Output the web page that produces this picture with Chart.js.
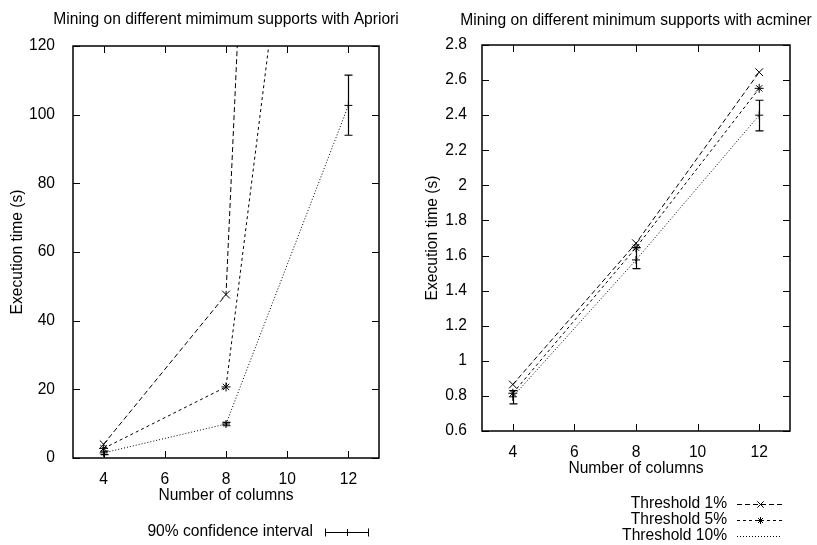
<!DOCTYPE html>
<html>
<head>
<meta charset="utf-8">
<script src="https://cdn.jsdelivr.net/npm/chart.js@4.4.1/dist/chart.umd.min.js"></script>
<style>
  html, body { margin: 0; padding: 0; background: #fff; }
  #page { position: relative; width: 817px; height: 545px; overflow: hidden; }
  .panel { position: absolute; top: 0; height: 545px; }
  #leftPanel { left: 0; width: 410px; }
  #rightPanel { left: 410px; width: 407px; }
</style>
</head>
<body>
<div id="page">
  <div class="panel" id="leftPanel"><canvas id="aprioriChart"></canvas></div>
  <div class="panel" id="rightPanel"><canvas id="acminerChart"></canvas></div>
</div>
<script>
const columns = [4, 8, 12];
const xTicks = [4, 6, 8, 10, 12];

// Apriori execution times (s)
const apriori1 = [4.0, 47.6, 835];
const apriori5 = [2.8, 20.7, 305];
const apriori10 = [1.5, 9.9, 102.7];
const apriori10Low = [1.0, 9.4, 94];
const apriori10High = [2.0, 10.4, 111.5];
const aprioriTicks = [0, 20, 40, 60, 80, 100, 120];

// acminer execution times (s)
const acminer1 = [0.865, 1.67, 2.645];
const acminer5 = [0.815, 1.645, 2.553];
const acminer10 = [0.795, 1.575, 2.40];
const acminer10Low = [0.755, 1.525, 2.31];
const acminer10High = [0.83, 1.645, 2.485];
const acminerTicks = [0.6, 0.8, 1, 1.2, 1.4, 1.6, 1.8, 2, 2.2, 2.4, 2.6, 2.8];

const seriesStyles = [
  { label: 'Threshold 1%', dash: [5, 3], point: 'crossRot', radius: 5.5 },
  { label: 'Threshold 5%', dash: [3, 3], point: 'star', radius: 4.5 },
  { label: 'Threshold 10%', dash: [1, 2], point: 'cross', radius: 4 }
];

const FONT = "'Liberation Sans', Arial, Helvetica, sans-serif";
const FONT_SIZE = 15.6;
Chart.defaults.font.family = FONT;
Chart.defaults.font.size = FONT_SIZE;
Chart.defaults.color = '#000';

function makeDataset(values, style, low, high) {
  return {
    label: style.label,
    data: columns.map((c, i) => ({ x: c, y: values[i] })),
    borderColor: '#000',
    borderWidth: 1,
    borderDash: style.dash,
    pointStyle: style.point,
    pointRadius: style.radius,
    pointBorderColor: '#000',
    pointBackgroundColor: '#000',
    pointBorderWidth: 1,
    tension: 0,
    fill: false,
    errLow: low,
    errHigh: high
  };
}

// box around the plot, inward ticks on all four sides, plot title
const framePlugin = {
  id: 'frame',
  afterDraw(chart, args, opts) {
    const { ctx, chartArea: a, scales: { x, y } } = chart;
    const len = 7;
    ctx.save();
    ctx.strokeStyle = '#000';
    ctx.lineWidth = 1;
    ctx.beginPath();
    x.ticks.forEach(t => {
      const px = Math.round(x.getPixelForValue(t.value)) + 0.5;
      ctx.moveTo(px, a.bottom); ctx.lineTo(px, a.bottom - len);
      ctx.moveTo(px, a.top); ctx.lineTo(px, a.top + len);
    });
    y.ticks.forEach(t => {
      const py = Math.round(y.getPixelForValue(t.value)) + 0.5;
      ctx.moveTo(a.left, py); ctx.lineTo(a.left + len, py);
      ctx.moveTo(a.right, py); ctx.lineTo(a.right - len, py);
    });
    ctx.stroke();
    ctx.lineWidth = 1.5;
    ctx.strokeRect(a.left, a.top, a.right - a.left, a.bottom - a.top);
    ctx.font = `${FONT_SIZE}px ${FONT}`;
    ctx.fillStyle = '#000';
    ctx.textAlign = 'center';
    ctx.textBaseline = 'middle';
    ctx.fillText(opts.text, (a.left + a.right) / 2, opts.y);
    ctx.restore();
  }
};

function drawErrorBar(ctx, px, yLow, yHigh, cap) {
  ctx.moveTo(px, yLow); ctx.lineTo(px, yHigh);
  ctx.moveTo(px - cap, yLow); ctx.lineTo(px + cap, yLow);
  ctx.moveTo(px - cap, yHigh); ctx.lineTo(px + cap, yHigh);
}

const errorBarPlugin = {
  id: 'errorBars',
  afterDatasetsDraw(chart) {
    const { ctx, chartArea: a, scales: { x, y } } = chart;
    ctx.save();
    ctx.beginPath();
    ctx.rect(a.left, a.top, a.right - a.left, a.bottom - a.top);
    ctx.clip();
    ctx.strokeStyle = '#000';
    ctx.lineWidth = 1.2;
    ctx.beginPath();
    chart.data.datasets.forEach(ds => {
      if (!ds.errLow) return;
      ds.data.forEach((p, i) => {
        const px = Math.round(x.getPixelForValue(p.x)) + 0.5;
        drawErrorBar(ctx, px, y.getPixelForValue(ds.errLow[i]), y.getPixelForValue(ds.errHigh[i]), 4);
      });
    });
    ctx.stroke();
    ctx.restore();
  }
};

// key under the plot: right aligned text followed by a line sample
const keyPlugin = {
  id: 'key',
  afterDraw(chart, args, opts) {
    const { ctx } = chart;
    ctx.save();
    ctx.font = `${FONT_SIZE}px ${FONT}`;
    ctx.fillStyle = '#000';
    ctx.strokeStyle = '#000';
    ctx.textAlign = 'right';
    ctx.textBaseline = 'middle';
    opts.rows.forEach(row => {
      ctx.fillText(row.text, opts.textRight, row.y);
      const mid = (opts.sampleLeft + opts.sampleRight) / 2;
      const y = Math.round(row.y) + 0.5;
      ctx.lineWidth = 1;
      ctx.beginPath();
      ctx.setLineDash(row.dash || []);
      ctx.moveTo(opts.sampleLeft, y);
      ctx.lineTo(opts.sampleRight, y);
      ctx.stroke();
      ctx.setLineDash([]);
      if (row.errorBar) {
        ctx.beginPath();
        ctx.moveTo(opts.sampleLeft + 0.5, y - 4); ctx.lineTo(opts.sampleLeft + 0.5, y + 4);
        ctx.moveTo(opts.sampleRight - 0.5, y - 4); ctx.lineTo(opts.sampleRight - 0.5, y + 4);
        ctx.stroke();
      }
      if (row.point) {
        Chart.helpers.drawPoint(ctx, { pointStyle: row.point, radius: row.radius, borderWidth: 1, rotation: 0 }, Math.round(mid) + 0.5, y);
      }
    });
    ctx.restore();
  }
};

function createChart(id, cfg) {
  return new Chart(document.getElementById(id), {
    type: 'line',
    data: { datasets: cfg.datasets },
    plugins: [framePlugin, errorBarPlugin, keyPlugin],
    options: {
      responsive: true,
      maintainAspectRatio: false,
      animation: false,
      layout: { padding: { top: cfg.top, right: cfg.right, bottom: 0, left: 0 } },
      plugins: {
        legend: { display: false },
        tooltip: { enabled: false },
        frame: { text: cfg.title, y: cfg.titleY },
        key: cfg.key
      },
      scales: {
        x: {
          type: 'linear',
          min: 3,
          max: 13,
          grid: { display: false },
          border: { display: false },
          afterBuildTicks: scale => { scale.ticks = xTicks.map(v => ({ value: v })); },
          afterFit: scale => { scale.height = cfg.xHeight; },
          ticks: { padding: 4, callback: v => String(v) },
          title: { display: true, text: 'Number of columns', padding: { top: 0, bottom: cfg.xTitlePad } }
        },
        y: {
          min: cfg.yMin,
          max: cfg.yMax,
          grid: { display: false },
          border: { display: false },
          afterBuildTicks: scale => { scale.ticks = cfg.yTicks.map(v => ({ value: v })); },
          afterFit: scale => { scale.width = cfg.yWidth; },
          ticks: { padding: cfg.yTickPad, callback: v => String(v) },
          title: { display: true, text: 'Execution time (s)', padding: { top: cfg.yTitlePad, bottom: 0 } }
        }
      }
    }
  });
}

createChart('aprioriChart', {
  title: 'Mining on different mimimum supports with Apriori',
  titleY: 20,
  top: 46, right: 31, xHeight: 87, yWidth: 73,
  yMin: 0, yMax: 120, yTicks: aprioriTicks,
  yTickPad: 10, yTitlePad: 8, xTitlePad: 40,
  datasets: [
    makeDataset(apriori1, seriesStyles[0]),
    makeDataset(apriori5, seriesStyles[1]),
    makeDataset(apriori10, seriesStyles[2], apriori10Low, apriori10High)
  ],
  key: {
    textRight: 313, sampleLeft: 325, sampleRight: 369,
    rows: [{ text: '90% confidence interval', y: 532, errorBar: true, point: 'cross', radius: 3.5 }]
  }
});

createChart('acminerChart', {
  title: 'Mining on different minimum supports with acminer',
  titleY: 21,
  top: 45, right: 27, xHeight: 114, yWidth: 72,
  yMin: 0.6, yMax: 2.8, yTicks: acminerTicks,
  yTickPad: 7, yTitlePad: 13, xTitlePad: 67,
  datasets: [
    makeDataset(acminer1, seriesStyles[0]),
    makeDataset(acminer5, seriesStyles[1]),
    makeDataset(acminer10, seriesStyles[2], acminer10Low, acminer10High)
  ],
  key: {
    textRight: 317, sampleLeft: 327, sampleRight: 372,
    rows: seriesStyles.map((s, i) => ({
      text: s.label,
      y: 504 + i * 16,
      dash: s.dash,
      point: i < 2 ? s.point : null,
      radius: s.radius - 1
    }))
  }
});
</script>
</body>
</html>
